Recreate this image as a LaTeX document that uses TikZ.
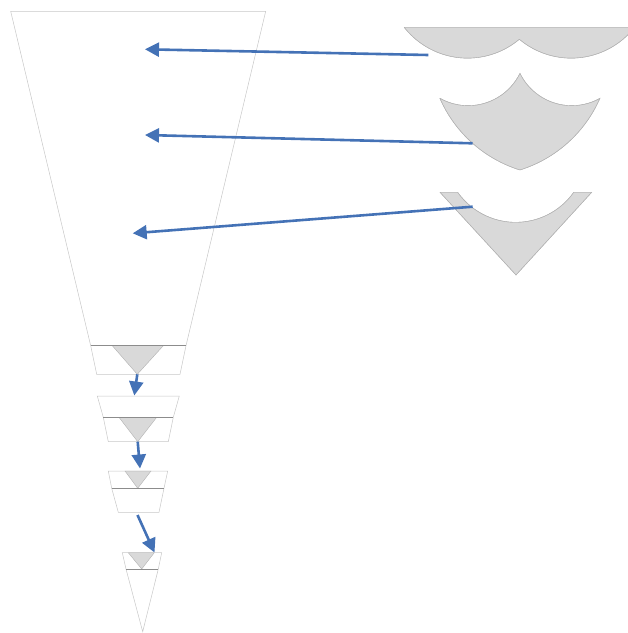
\documentclass[tikz,border=0pt]{standalone}
\usepackage{xcolor}
\usepackage{tikz}
\usetikzlibrary{shapes, arrows.meta, positioning}

\definecolor{arrowblue}{RGB}{68,114,182}

\begin{document}
\begin{tikzpicture}[x=1pt, y=-1pt,
    cone/.style={draw=black!22, line width=0.5pt},
    level/.style={draw=black!45, line width=0.5pt},
    piece/.style={fill=black!15, draw=black!30, line width=0.4pt},
    flow/.style={draw=arrowblue, line width=2.6pt, -{Triangle[length=14pt, width=14pt]}}]
    \useasboundingbox (0,0) rectangle (628,633);

    % pieces on the right
    \fill[piece] (404.1,27.3) -- (634.6,27.3)
        arc[start angle=38.1, end angle=130, radius=80.6]
        arc[start angle=50, end angle=141.9, radius=80.6] -- cycle;
    \fill[piece] (440,98.3)
        arc[start angle=119.2, end angle=26.1, radius=57.7]
        arc[start angle=153.9, end angle=60.8, radius=57.7]
        arc[start angle=23.6, end angle=72.7, radius=129.3]
        arc[start angle=107.3, end angle=156.4, radius=129.3] -- cycle;
    \fill[piece] (440,192.3) -- (457.7,192.3)
        arc[start angle=144.7, end angle=35.3, radius=71.07]
        -- (591.7,192.3) -- (516,275) -- cycle;
    \draw[piece, fill=none] (404.1,27.3)
        arc[start angle=141.9, end angle=50, radius=80.6]
        arc[start angle=130, end angle=38.1, radius=80.6];
    \draw[piece, fill=none] (440,98.3)
        arc[start angle=119.2, end angle=26.1, radius=57.7]
        arc[start angle=153.9, end angle=60.8, radius=57.7]
        arc[start angle=23.6, end angle=72.7, radius=129.3]
        arc[start angle=107.3, end angle=156.4, radius=129.3];
    \draw[piece, fill=none] (457.7,192.3)
        arc[start angle=144.7, end angle=35.3, radius=71.07];
    \draw[piece, fill=none] (440,192.3) -- (516,275) -- (591.7,192.3);

    \coordinate (pieceTop) at (428.3,55);
    \coordinate (pieceMid) at (472.7,143.3);
    \coordinate (pieceLow) at (472.7,206.7);

    % big cone
    \fill[piece] (112.3,345.7) -- (163.3,345.7) -- (137.3,374.3) -- cycle;
    \draw[cone] (90.7,345.7) -- (10.7,11.3) -- (265.7,11.3) -- (186,345.7);
    \draw[cone] (90.7,345.7) -- (96.7,374.3) -- (180,374.3) -- (186,345.7);
    \draw[level] (90.7,345.7) -- (186,345.7);

    \coordinate (coneTop) at (145,49.3);
    \coordinate (coneMid) at (145,135);
    \coordinate (coneLow) at (132.7,233.3);
    \coordinate (tipA) at (137.3,374.3);

    % second cup
    \fill[piece] (119,417.3) -- (156.7,417.3) -- (137.7,441.7) -- cycle;
    \draw[cone] (103.3,417.3) -- (97.3,396) -- (179.3,396) -- (173.3,417.3);
    \draw[cone] (103.3,417.3) -- (108.3,441.7) -- (168.3,441.7) -- (173.3,417.3);
    \draw[level] (103.3,417.3) -- (173.3,417.3);

    \coordinate (topB) at (134.3,395.5);
    \coordinate (tipB) at (137.7,441.7);

    % third cup
    \fill[piece] (125,471) -- (151,471) -- (137.7,488.3) -- cycle;
    \draw[cone] (111.7,488.3) -- (108.3,471) -- (167.7,471) -- (164,488.3);
    \draw[cone] (111.7,488.3) -- (118.3,512.3) -- (159,512.3) -- (164,488.3);
    \draw[level] (111.7,488.3) -- (164,488.3);

    \coordinate (topC) at (140,468.5);
    \coordinate (tipC) at (137.5,515);

    % last cone
    \fill[piece] (128.3,552.7) -- (154.3,552.7) -- (141.7,569) -- cycle;
    \draw[cone] (126,569) -- (122.3,552.7) -- (161.7,552.7) -- (158.3,569);
    \draw[cone] (126,569) -- (142.7,631.7) -- (158.3,569);
    \draw[level] (126,569) -- (158.3,569);

    \coordinate (topD) at (154.5,552.5);

    % arrows
    \draw[flow] (pieceTop) -- (coneTop);
    \draw[flow] (pieceMid) -- (coneMid);
    \draw[flow] (pieceLow) -- (coneLow);
    \draw[flow] (tipA) -- (topB);
    \draw[flow] (tipB) -- (topC);
    \draw[flow] (tipC) -- (topD);
\end{tikzpicture}
\end{document}
